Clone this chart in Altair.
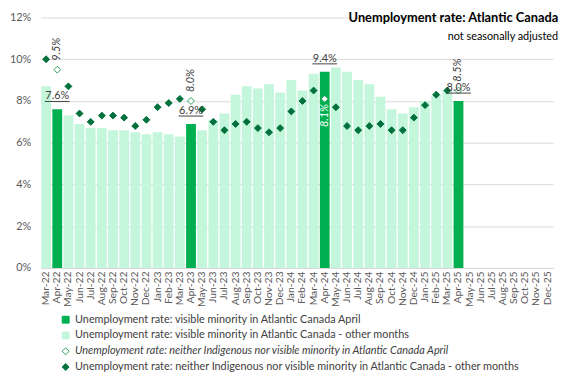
import altair as alt
import pandas as pd

months = ["Mar-22","Apr-22","May-22","Jun-22","Jul-22","Aug-22","Sep-22","Oct-22","Nov-22","Dec-22",
          "Jan-23","Feb-23","Mar-23","Apr-23","May-23","Jun-23","Jul-23","Aug-23","Sep-23","Oct-23","Nov-23","Dec-23",
          "Jan-24","Feb-24","Mar-24","Apr-24","May-24","Jun-24","Jul-24","Aug-24","Sep-24","Oct-24","Nov-24","Dec-24",
          "Jan-25","Feb-25","Mar-25","Apr-25","May-25","Jun-25","Jul-25","Aug-25","Sep-25","Oct-25","Nov-25","Dec-25"]

# visible minority in Atlantic Canada (Mar-22 .. Apr-25)
visible_minority = [8.7, 7.6, 7.3, 6.9, 6.7, 6.7, 6.6, 6.6, 6.5, 6.4,
                    6.5, 6.4, 6.3, 6.9, 6.6, 7.1, 7.4, 8.3, 8.7, 8.6, 8.8, 8.4,
                    9.0, 8.5, 9.3, 9.4, 9.6, 9.4, 9.0, 8.8, 8.2, 7.6, 7.4, 7.7,
                    8.0, 8.3, 8.5, 8.0]
# neither Indigenous nor visible minority in Atlantic Canada
neither = [10.0, 9.5, 8.7, 7.4, 7.0, 7.3, 7.3, 7.2, 6.8, 7.1,
           7.7, 7.9, 8.1, 8.0, 7.6, 7.0, 6.6, 6.9, 7.0, 6.7, 6.5, 6.7,
           7.5, 8.0, 8.5, 8.1, 7.7, 6.8, 6.6, 6.8, 6.9, 6.6, 6.6, 7.2,
           7.8, 8.3, 8.5, 8.5]

S_VM_APR = "Unemployment rate: visible minority in Atlantic Canada April"
S_VM_OTH = "Unemployment rate: visible minority in Atlantic Canada - other months"
S_NE_APR = "Unemployment rate: neither Indigenous nor visible minority in Atlantic Canada April"
S_NE_OTH = "Unemployment rate: neither Indigenous nor visible minority in Atlantic Canada - other months"
series_order = [S_VM_APR, S_VM_OTH, S_NE_APR, S_NE_OTH]

FONT = "Lato"
DARK = "#00B050"
LIGHT = "#C4F6DB"
DIAMOND = "#00703C"
OPEN = "#2E9E5B"

rows_bar = []
rows_pt = []
for i, v in enumerate(visible_minority):
    apr = months[i].startswith("Apr")
    rows_bar.append({"month": months[i], "value": v,
                     "series": S_VM_APR if apr else S_VM_OTH,
                     "label": f"{v:.1f}%", "apr": apr})
for i, v in enumerate(neither):
    apr = months[i].startswith("Apr")
    rows_pt.append({"month": months[i], "value": v,
                    "series": S_NE_APR if apr else S_NE_OTH,
                    "label": f"{v:.1f}%", "apr": apr,
                    "inside": months[i] == "Apr-24"})
bars_df = pd.DataFrame(rows_bar)
pts_df = pd.DataFrame(rows_pt)

x_enc = alt.X("month:N", sort=months,
              scale=alt.Scale(domain=months, paddingInner=0.12, paddingOuter=0.06),
              axis=alt.Axis(title=None, labelAngle=270, labelFont=FONT, labelFontSize=10.5,
                            labelColor="#595959", ticks=False, domainColor="#D9D9D9",
                            labelPadding=3, grid=False))
y_enc = alt.Y("value:Q", scale=alt.Scale(domain=[0, 12], nice=False),
              axis=alt.Axis(title=None, values=[0, 2, 4, 6, 8, 10, 12],
                            labelExpr="datum.value + '%'", labelFont=FONT, labelFontSize=11,
                            labelColor="#595959", ticks=False, domain=False,
                            gridColor="#D9D9D9", labelPadding=10))

fill_scale = alt.Scale(domain=series_order, range=[DARK, LIGHT, "#FFFFFF", DIAMOND])
stroke_scale = alt.Scale(domain=series_order, range=[DARK, LIGHT, OPEN, DIAMOND])
shape_scale = alt.Scale(domain=series_order, range=["square", "square", "diamond", "diamond"])
size_scale = alt.Scale(domain=series_order, range=[49, 49, 26, 8])

legend = alt.Legend(title=None, orient="none", legendX=20, legendY=301,
                    labelFont=FONT, labelFontSize=11, labelColor="#404040",
                    rowPadding=4, labelOffset=4, symbolStrokeWidth=1,
                    labelLimit=700,
                    labelFontStyle={"expr": "indexof(datum.label, 'neither') >= 0 && indexof(datum.label, 'April') >= 0 ? 'italic' : 'normal'"})

bars = alt.Chart(bars_df).mark_bar().encode(
    x=x_enc, y=y_enc,
    fill=alt.Fill("series:N", scale=fill_scale, legend=legend),
)

points = alt.Chart(pts_df).mark_point(filled=True, opacity=1, strokeWidth=1).encode(
    x=alt.X("month:N", sort=months),
    y="value:Q",
    fill=alt.Fill("series:N", scale=fill_scale, legend=legend),
    stroke=alt.Stroke("series:N", scale=stroke_scale, legend=legend),
    shape=alt.Shape("series:N", scale=shape_scale, legend=legend),
    size=alt.Size("series:N", scale=size_scale, legend=legend),
)

bar_labels = alt.Chart(bars_df).transform_filter("datum.apr").mark_text(
    font=FONT, fontSize=11, color="#404040", align="center", baseline="alphabetic", dy=-10
).encode(x=alt.X("month:N", sort=months), y="value:Q", text="label:N")

underline = alt.Chart(bars_df).transform_filter("datum.apr").mark_tick(
    orient="horizontal", size=25, thickness=1, color="#404040", yOffset=-8, opacity=1
).encode(x=alt.X("month:N", sort=months), y="value:Q")

pt_labels = alt.Chart(pts_df).transform_filter("datum.apr && !datum.inside").mark_text(
    font=FONT, fontSize=11, fontStyle="italic", color="#404040", angle=270,
    align="left", baseline="middle", dx=9
).encode(x=alt.X("month:N", sort=months), y="value:Q", text="label:N")

pt_label_in = alt.Chart(pts_df).transform_filter("datum.inside").mark_text(
    font=FONT, fontSize=11, fontStyle="italic", color="#FFFFFF", angle=270,
    align="right", baseline="middle", dx=-5
).encode(x=alt.X("month:N", sort=months), y="value:Q", text="label:N")

chart = alt.layer(bars, points, underline, bar_labels, pt_labels, pt_label_in).properties(
    width=520, height=254,
    padding={"left": 33, "top": 7, "right": 16, "bottom": 108},
    autosize=alt.AutoSizeParams(type="none"),
    title=alt.TitleParams(text="Unemployment rate: Atlantic Canada",
                          subtitle="not seasonally adjusted",
                          anchor="end", frame="group", font=FONT, fontSize=13,
                          fontWeight="bold", color="#000000",
                          subtitleFont=FONT, subtitleFontSize=11, subtitleColor="#000000",
                          subtitlePadding=6, dx=5, dy=35),
).configure_view(stroke=None).resolve_scale(fill="shared")

chart.save("out.html", embed_options={"renderer": "svg", "actions": False})
